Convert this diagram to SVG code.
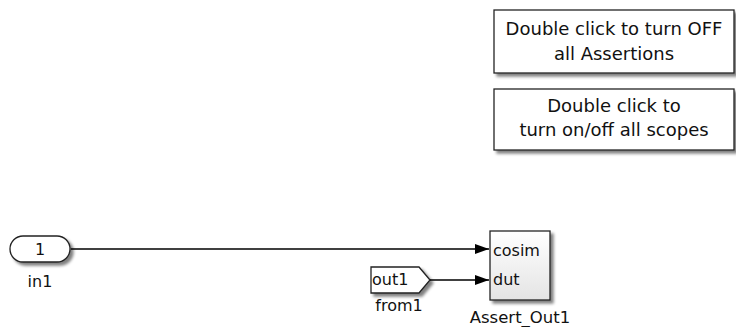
<svg xmlns="http://www.w3.org/2000/svg" width="736" height="327" viewBox="0 0 736 327">
<defs>
<linearGradient id="g" x1="0" y1="0" x2="0" y2="1"><stop offset="0" stop-color="#ffffff"/><stop offset="1" stop-color="#e4e4e4"/></linearGradient>
<marker id="ar" markerWidth="14" markerHeight="10" refX="14" refY="5" orient="auto" markerUnits="userSpaceOnUse"><path d="M0,0 L14,5 L0,10 Z" fill="#000"/></marker>
<filter id="sh" x="-10%" y="-10%" width="130%" height="140%"><feGaussianBlur in="SourceAlpha" stdDeviation="1.5"/><feOffset dx="3" dy="3"/><feComponentTransfer><feFuncA type="linear" slope="0.5"/></feComponentTransfer><feMerge><feMergeNode/><feMergeNode in="SourceGraphic"/></feMerge></filter>
</defs>
<style>
text{font-family:"DejaVu Sans","Liberation Sans",sans-serif;fill:#111;}
.ann{font-size:18px;text-anchor:middle;}
.lbl{font-size:16px;text-anchor:middle;}
.box{fill:#fff;stroke:#222;stroke-width:1.3;}
.wire{stroke:#000;stroke-width:1.3;fill:none;}
</style>
<rect width="736" height="327" fill="#fff"/>
<g id="note1">
<rect class="box" x="494" y="10" width="240" height="63" filter="url(#sh)"/>
<text class="ann" x="614" y="35">Double click to turn OFF</text>
<text class="ann" x="614" y="60">all Assertions</text>
</g>
<g id="note2">
<rect class="box" x="494" y="89" width="240" height="61" filter="url(#sh)"/>
<text class="ann" x="614" y="112">Double click to</text>
<text class="ann" x="614" y="136">turn on/off all scopes</text>
</g>
<g id="in1">
<rect class="box" x="10" y="236" width="60" height="26" rx="13" ry="13" filter="url(#sh)"/>
<text class="lbl" x="40" y="255">1</text>
<text class="lbl" x="40" y="287">in1</text>
</g>
<g id="from1">
<path class="box" d="M371,267 L419,267 L430,280 L419,293 L371,293 Z" filter="url(#sh)"/>
<text class="lbl" x="372" y="285" style="text-anchor:start">out1</text>
<text class="lbl" x="399" y="311">from1</text>
</g>
<g id="Assert_Out1">
<rect x="490" y="231" width="60" height="69" fill="url(#g)" stroke="#222" stroke-width="1.3" filter="url(#sh)"/>
<text class="lbl" x="493" y="256" style="text-anchor:start">cosim</text>
<text class="lbl" x="493" y="285" style="text-anchor:start">dut</text>
<text class="lbl" x="520" y="323" style="font-size:16.5px">Assert_Out1</text>
</g>
<g id="connectors">
<line class="wire" x1="71" y1="249" x2="489" y2="249" marker-end="url(#ar)"/>
<line class="wire" x1="430" y1="280" x2="489" y2="280" marker-end="url(#ar)"/>
</g>
</svg>
